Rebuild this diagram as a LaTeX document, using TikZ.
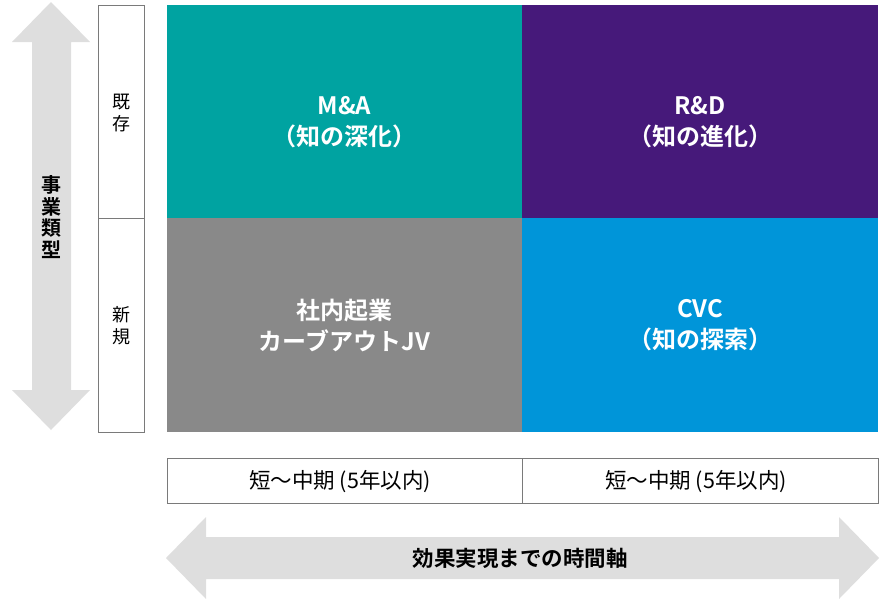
\documentclass[tikz,border=0pt]{standalone}
\usepackage{fontspec}
\setmainfont{Noto Sans CJK JP}[BoldFont={Noto Sans CJK JP Bold}]
\definecolor{cteal}{HTML}{00A3A1}
\definecolor{cpurple}{HTML}{46197A}
\definecolor{cgray}{HTML}{898989}
\definecolor{cblue}{HTML}{0095D9}
\definecolor{carrow}{HTML}{DEDEDE}
\definecolor{cline}{HTML}{7A7A7A}
\begin{document}
\begin{tikzpicture}[x=1pt,y=-1pt,
  quad/.style={draw=none,anchor=north west,inner sep=0pt,outer sep=0pt},
  qtext/.style={text=white,font=\fontsize{24}{31}\selectfont\bfseries,align=center},
  lbox/.style={draw=cline,line width=0.8pt,fill=white},
  ltext/.style={font=\fontsize{18}{22}\selectfont,align=center},
  btext/.style={font=\fontsize{21.5}{24}\selectfont},
  atext/.style={font=\fontsize{21.5}{24}\selectfont\bfseries,align=center}]
\useasboundingbox (0,0) rectangle (886,598);
% quadrants
\fill[cteal] (167,5) rectangle (522,218);
\fill[cpurple] (522,5) rectangle (878,218);
\fill[cgray] (167,218) rectangle (522,432);
\fill[cblue] (522,218) rectangle (878,432);
\node[qtext] (ma) at (344.5,122) {M\&A\\（知の深化）};
\node[qtext] (rd) at (700,122) {R\&D\\（知の進化）};
\node[qtext] (ji) at (344.5,325) {社内起業\\カーブアウトJV};
\node[qtext] (cvc) at (700,325) {CVC\\（知の探索）};
% left label column
\draw[lbox] (98,5) rectangle (144,432);
\draw[cline,line width=0.8pt] (98,218) -- (144,218);
\node[ltext] (kizon) at (121,113) {既\\存};
\node[ltext] (shinki) at (121,326) {新\\規};
% vertical arrow
\fill[carrow] (51,2) -- (90,42) -- (71,42) -- (71,390) -- (90,390) -- (51,430) -- (12,390) -- (32,390) -- (32,42) -- (12,42) -- cycle;
\node[font=\fontsize{20}{21.5}\selectfont\bfseries,align=center] (jigyo) at (51,217) {事\\業\\類\\型};
% bottom boxes
\draw[lbox] (167,458) rectangle (878,503);
\draw[cline,line width=0.8pt] (522,458) -- (522,503);
\node[btext] (t1) at (340,482) {短〜中期 (5年以内)};
\node[btext] (t2) at (696,482) {短〜中期 (5年以内)};
% horizontal arrow
\fill[carrow] (166,558) -- (206,517) -- (206,537) -- (839,537) -- (839,517) -- (879,558) -- (839,599) -- (839,579) -- (206,579) -- (206,599) -- cycle;
\node[atext] (jikan) at (520,558) {効果実現までの時間軸};
\end{tikzpicture}
\end{document}
